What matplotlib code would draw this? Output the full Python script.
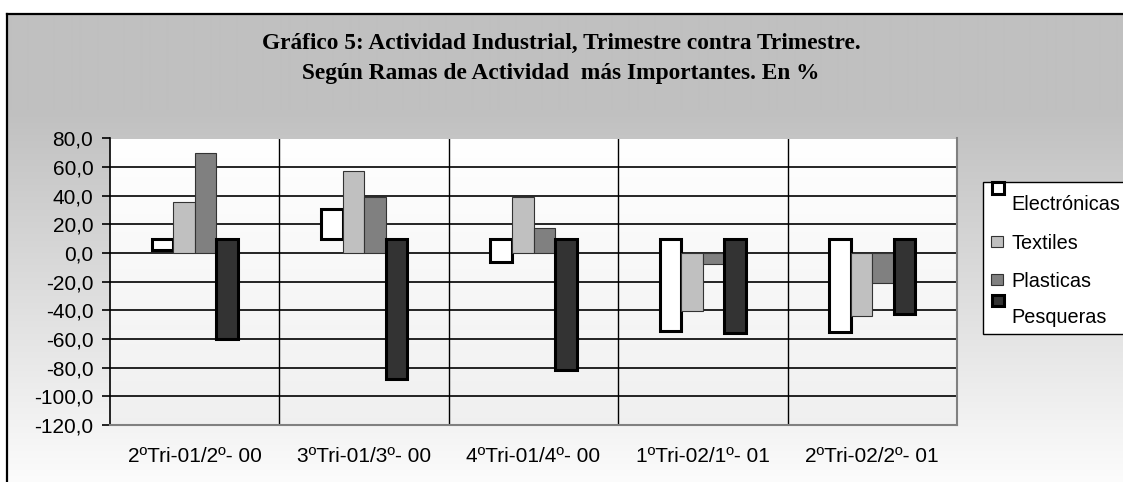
import numpy as np
import matplotlib
matplotlib.use("Agg")
import matplotlib.pyplot as plt
from matplotlib.patches import Rectangle
from matplotlib.lines import Line2D

# ---------------- data ----------------
categories = ["2ºTri-01/2º- 00", "3ºTri-01/3º- 00", "4ºTri-01/4º- 00",
              "1ºTri-02/1º- 01", "2ºTri-02/2º- 01"]
series_names = ["Electrónicas", "Textiles", "Plasticas", "Pesqueras"]
electronicas = [2.4, 30.8, -6.5, -54.5, -55.4]
textiles = [35.4, 57.5, 39.3, -40.2, -44.2]
plasticas = [70.2, 39.3, 17.8, -7.9, -20.8]
pesqueras = [-60.3, -87.9, -81.8, -55.6, -42.8]
yticks = [80, 60, 40, 20, 0, -20, -40, -60, -80, -100, -120]
title_lines = ["Gráfico 5: Actividad Industrial, Trimestre contra Trimestre.",
               "Según Ramas de Actividad  más Importantes. En %"]

# ---------------- figure ----------------
W, H = 1123, 482
fig = plt.figure(figsize=(W / 100, H / 100), dpi=100)
fig.patch.set_facecolor("white")

def fx(px):
    return px / W

def fy(py):
    return 1 - py / H

# chart-area background gradient (gray at top -> almost white at bottom)
bg = fig.add_axes([fx(8), 0, 1 - fx(8), fy(14)], zorder=-10)
rows = np.arange(14, H)
vals = np.where(rows < 110, 0xC0, 0xC0 + (0xFC - 0xC0) * (rows - 110) / (H - 110)) / 255.0
grad = np.repeat(vals[:, None], 2, axis=1)
bg.imshow(np.dstack([grad, grad, grad]), aspect="auto", extent=[0, 1, 0, 1],
          interpolation="bilinear")
bg.set_axis_off()

# outer border (top and left)
fig.add_artist(Line2D([fx(7), 1], [fy(14), fy(14)], color="black", lw=1.6,
                      transform=fig.transFigure))
fig.add_artist(Line2D([fx(7), fx(7)], [0, fy(14)], color="black", lw=1.6,
                      transform=fig.transFigure))

# ---------------- plot area ----------------
L, R, T, B = 110, 957, 138.5, 425
ax = fig.add_axes([fx(L), fy(B), fx(R - L), fy(T) - fy(B)])
ax.set_xlim(-0.5, len(categories) - 0.5)
ax.set_ylim(-120, 80)

# plot-area gradient
pg = np.linspace(1.0, 0.94, 100)[:, None]
ax.imshow(np.dstack([pg, pg, pg]).repeat(2, axis=1), aspect="auto",
          extent=[-0.5, len(categories) - 0.5, -120, 80], zorder=0,
          interpolation="bilinear")

x = np.arange(len(categories))
w = 0.127
base = 10  # the original chart draws these two series from a 10 baseline
e = np.array(electronicas)
p = np.array(pesqueras)
ax.bar(x - 1.5 * w, e - base, bottom=base, width=w, color="white",
       edgecolor="black", linewidth=2.2, zorder=3)
ax.bar(x - 0.5 * w, textiles, width=w, color="#c0c0c0",
       edgecolor="#333333", linewidth=0.8, zorder=3)
ax.bar(x + 0.5 * w, plasticas, width=w, color="#808080",
       edgecolor="#333333", linewidth=0.8, zorder=3)
ax.bar(x + 1.5 * w, p - base, bottom=base, width=w, color="#333333",
       edgecolor="black", linewidth=2.2, zorder=3)

# grid lines
for yv in yticks:
    if yv != -120:
        ax.axhline(yv, color="black", lw=1.2, zorder=1)
for xb in np.arange(0.5, len(categories) - 0.5, 1.0):
    ax.axvline(xb, color="black", lw=1.0, zorder=1)

ax.spines["top"].set_visible(False)
ax.spines["right"].set_color("#808080")
ax.spines["bottom"].set_color("#808080")
ax.spines["right"].set_linewidth(1.5)
ax.spines["bottom"].set_linewidth(1.5)
ax.spines["left"].set_color("black")
ax.spines["left"].set_linewidth(1.2)

ax.set_yticks(yticks)
ax.set_yticklabels([f"{v:.1f}".replace(".", ",") for v in yticks],
                   fontfamily="Liberation Sans", fontsize=15)
ax.tick_params(axis="y", length=6, width=1.2, pad=6, color="black")
ax.set_xticks(x)
ax.set_xticklabels(categories, fontfamily="Liberation Sans", fontsize=15)
ax.tick_params(axis="x", length=0, pad=16)

# ---------------- title ----------------
for i, line in enumerate(title_lines):
    fig.text(fx(561), fy(49 + 30 * i), line, ha="center", va="baseline",
             fontfamily="Liberation Serif", fontweight="bold", fontsize=16.8)

# ---------------- legend (drawn manually) ----------------
fig.add_artist(Rectangle((fx(983), fy(334)), fx(200), fy(182) - fy(334),
                         transform=fig.transFigure, facecolor="white",
                         edgecolor="black", lw=1.0, clip_on=False, zorder=5))
leg = [
    # name, fill, edge, lw, handle top, handle bottom, text baseline
    (series_names[0], "white", "black", 2.2, 182, 194, 210),
    (series_names[1], "#c0c0c0", "#333333", 0.8, 236, 247, 249),
    (series_names[2], "#808080", "#333333", 0.8, 274, 285, 287),
    (series_names[3], "#333333", "black", 2.2, 295, 306, 323),
]
for name, fc, ec, lw, ht, hb, tb in leg:
    x0 = 992 if lw > 1 else 991
    fig.add_artist(Rectangle((fx(x0), fy(hb)), fx(12), fy(ht) - fy(hb),
                             transform=fig.transFigure, facecolor=fc,
                             edgecolor=ec, lw=lw, zorder=6))
    fig.text(fx(1011), fy(tb), name, ha="left", va="baseline",
             fontfamily="Liberation Sans", fontsize=14.3, zorder=7)

fig.savefig("out.png", dpi=100)
